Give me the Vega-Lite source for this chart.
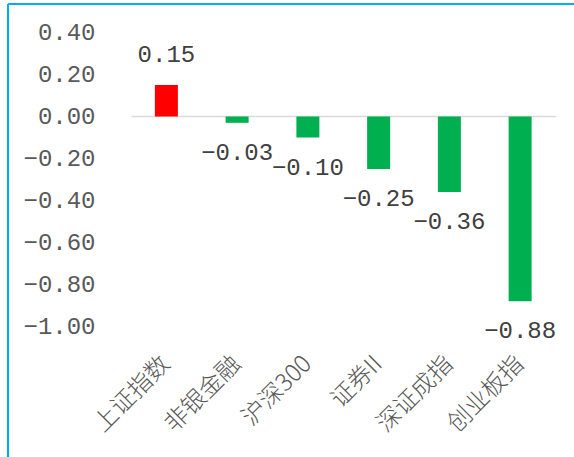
{
  "$schema": "https://vega.github.io/schema/vega-lite/v6.json",
  "autosize": "none",
  "width": 566,
  "height": 453,
  "padding": {"left": 8, "top": 4, "right": 0, "bottom": 0},
  "background": "#FFFFFF",
  "config": {
    "view": {"stroke": "#00B0F0", "strokeWidth": 2, "strokeDash": [566, 1019, 453, 0]},
    "axis": {"grid": false, "tickSize": 0}
  },
  "data": {
    "values": [
      {"name": "上证指数", "value": 0.15},
      {"name": "非银金融", "value": -0.03},
      {"name": "沪深300", "value": -0.10},
      {"name": "证券II", "value": -0.25},
      {"name": "深证成指", "value": -0.36},
      {"name": "创业板指", "value": -0.88}
    ]
  },
  "encoding": {
    "y": {
      "field": "value",
      "type": "quantitative",
      "scale": {"domain": [-1, 0.4], "range": [322.5, 28.5], "nice": false, "zero": false},
      "axis": {
        "orient": "left",
        "offset": -87,
        "values": [-1, -0.8, -0.6, -0.4, -0.2, 0, 0.2, 0.4],
        "format": ".2f",
        "domain": false,
        "ticks": false,
        "labelPadding": 0,
        "labelFont": "Liberation Mono",
        "labelFontSize": 24,
        "labelColor": "#595959",
        "title": null
      }
    }
  },
  "layer": [
    {
      "mark": {"type": "bar"},
      "encoding": {
        "x": {
          "field": "name",
          "type": "nominal",
          "scale": {"type": "band", "domain": ["上证指数", "非银金融", "沪深300", "证券II", "深证成指", "创业板指"], "range": [123, 547.5], "paddingInner": 0.675, "paddingOuter": 0.3375},
          "axis": {
            "orient": "bottom",
            "offset": -97,
            "labelAngle": -45,
            "labelAlign": "right",
            "labelBaseline": "middle",
            "labelPadding": 0,
            "domain": false,
            "ticks": false,
            "labelFont": "Noto Sans CJK SC",
            "labelFontSize": 24,
            "labelFontWeight": 300,
            "labelColor": "#595959",
            "labelOverlap": false,
            "labelLimit": 0,
            "title": null
          }
        },
        "color": {
          "condition": {"test": "datum.value > 0", "value": "#FF0000"},
          "value": "#00B050"
        }
      }
    },
    {
      "transform": [{"filter": "datum.value > 0"}],
      "mark": {"type": "text", "baseline": "middle", "align": "center", "dy": -30, "font": "Liberation Mono", "fontSize": 24, "color": "#404040"},
      "encoding": {
        "x": {
          "field": "name",
          "type": "nominal",
          "scale": {"type": "band", "domain": ["上证指数", "非银金融", "沪深300", "证券II", "深证成指", "创业板指"], "range": [123, 547.5], "paddingInner": 0.675, "paddingOuter": 0.3375},
          "axis": {
            "orient": "top",
            "offset": -112,
            "labels": false,
            "ticks": false,
            "domain": true,
            "domainColor": "#D9D9D9",
            "domainWidth": 1.5,
            "title": null
          }
        },
        "text": {"field": "value", "type": "quantitative", "format": ".2f"}
      }
    },
    {
      "transform": [{"filter": "datum.value <= 0"}],
      "mark": {"type": "text", "baseline": "middle", "align": "center", "dy": 30, "font": "Liberation Mono", "fontSize": 24, "color": "#404040"},
      "encoding": {
        "x": {
          "field": "name",
          "type": "nominal",
          "scale": {"type": "band", "domain": ["上证指数", "非银金融", "沪深300", "证券II", "深证成指", "创业板指"], "range": [123, 547.5], "paddingInner": 0.675, "paddingOuter": 0.3375},
          "axis": null
        },
        "text": {"field": "value", "type": "quantitative", "format": ".2f"}
      }
    }
  ],
  "resolve": {"axis": {"x": "independent"}}
}
